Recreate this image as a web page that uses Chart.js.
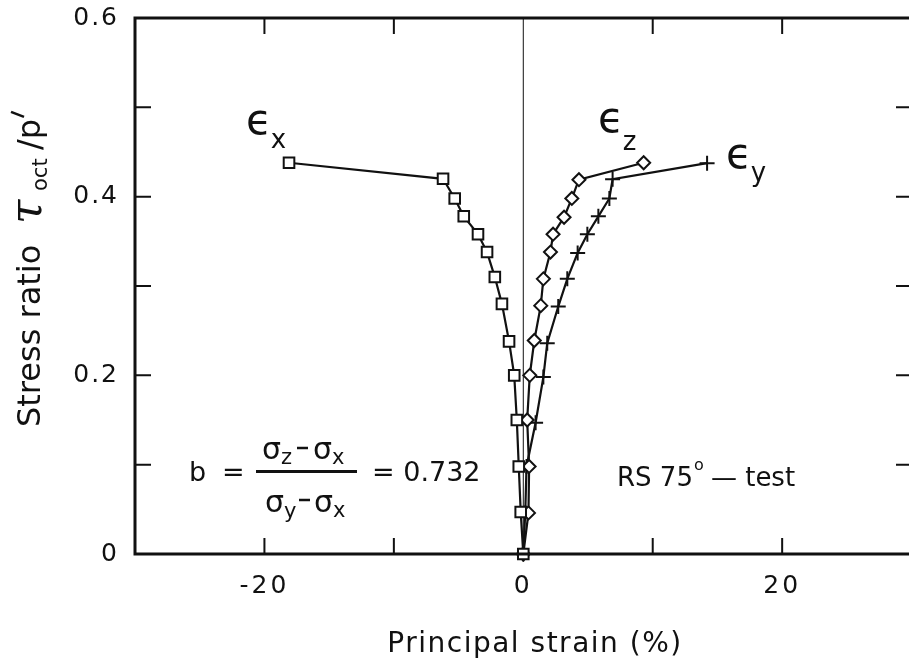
<!DOCTYPE html>
<html>
<head>
<meta charset="utf-8">
<script src="https://cdn.jsdelivr.net/npm/chart.js@4.4.1/dist/chart.umd.min.js"></script>
<style>
  html, body { margin: 0; padding: 0; background: #fff; overflow: hidden; }
  #wrap { width: 909px; height: 661px; }
</style>
</head>
<body>
<div id="wrap"><canvas id="strainChart" width="909" height="661"></canvas></div>
<script>
// DATA

// epsilon x (squares)
const strainX = [-18.1, -6.2, -5.3, -4.6, -3.5, -2.8, -2.2, -1.65, -1.1, -0.7, -0.5, -0.35, -0.2, 0];
const ratioX = [0.438, 0.420, 0.398, 0.378, 0.358, 0.338, 0.310, 0.280, 0.238, 0.200, 0.150, 0.098, 0.047, 0];

// epsilon z (diamonds)
const strainZ = [9.3, 4.3, 3.75, 3.15, 2.3, 2.1, 1.55, 1.35, 0.85, 0.5, 0.3, 0.45, 0.4, 0];
const ratioZ = [0.438, 0.419, 0.398, 0.377, 0.358, 0.338, 0.308, 0.278, 0.239, 0.200, 0.150, 0.098, 0.046, 0];

// epsilon y (plus signs)
const strainY = [14.2, 6.9, 6.65, 5.8, 4.95, 4.2, 3.4, 2.7, 1.85, 1.55, 0.95, 0.25, 0.15, 0];
const ratioY = [0.4375, 0.4195, 0.398, 0.378, 0.358, 0.337, 0.308, 0.277, 0.236, 0.198, 0.147, 0.098, 0.046, 0];

// axis ticks (the right border of the original frame falls just outside the picture)
const xMin = -30, xMax = 29.8;
const xTicks = [-20, -10, 0, 10, 20];
const xTickLabels = ["-20", "", "0", "", "20"];
const yTicks = [0, 0.1, 0.2, 0.3, 0.4, 0.5, 0.6];
const yTickLabels = ["0", "", "0.2", "", "0.4", "", "0.6"];

function toPoints(xs, ys) {
  return xs.map((x, i) => ({ x: x, y: ys[i] }));
}

const INK = "#111";
const FONT = "'DejaVu Sans', sans-serif";

// DRAWING HELPERS

function textWithSub(ctx, base, sub, x, y, bigFont, smallFont, drop) {
  ctx.font = bigFont;
  ctx.fillText(base, x, y);
  const w = ctx.measureText(base).width;
  ctx.font = smallFont;
  ctx.fillText(sub, x + w, y + drop);
  return w + ctx.measureText(sub).width;
}

function dash(ctx, x1, x2, y) {
  ctx.beginPath();
  ctx.moveTo(x1, y); ctx.lineTo(x2, y);
  ctx.stroke();
}

// FRAME, TICKS, LABELS, NOTES
const paperPlugin = {
  id: "paper",
  beforeDatasetsDraw(chart) {
    const { ctx, chartArea: a, scales } = chart;
    const x0 = scales.x.getPixelForValue(0);
    ctx.save();
    ctx.strokeStyle = INK;
    ctx.lineWidth = 1;
    ctx.beginPath();
    ctx.moveTo(x0, a.top);
    ctx.lineTo(x0, a.bottom);
    ctx.stroke();
    ctx.restore();
  },
  afterDraw(chart) {
    const { ctx, chartArea: a, scales } = chart;
    const sx = scales.x, sy = scales.y;
    ctx.save();
    ctx.strokeStyle = INK;
    ctx.fillStyle = INK;

    // frame: left, top, bottom
    ctx.lineWidth = 3;
    ctx.beginPath();
    ctx.moveTo(a.right + 2, a.top);
    ctx.lineTo(a.left, a.top);
    ctx.lineTo(a.left, a.bottom);
    ctx.lineTo(a.right + 2, a.bottom);
    ctx.stroke();

    // inward ticks
    ctx.lineWidth = 2;
    const tl = 16;
    xTicks.forEach(v => {
      if (v === 0) return;
      const px = sx.getPixelForValue(v);
      ctx.beginPath();
      ctx.moveTo(px, a.bottom); ctx.lineTo(px, a.bottom - tl);
      ctx.moveTo(px, a.top); ctx.lineTo(px, a.top + tl);
      ctx.stroke();
    });
    yTicks.forEach(v => {
      if (v === 0 || v === 0.6) return;
      const py = sy.getPixelForValue(v);
      ctx.beginPath();
      ctx.moveTo(a.left, py); ctx.lineTo(a.left + tl, py);
      ctx.moveTo(a.right + 2, py); ctx.lineTo(a.right - 13, py);
      ctx.stroke();
    });

    // tick labels
    ctx.letterSpacing = "3px";
    ctx.font = "25px " + FONT;
    ctx.textAlign = "center";
    ctx.textBaseline = "middle";
    xTicks.forEach((v, i) => {
      if (xTickLabels[i]) ctx.fillText(xTickLabels[i], sx.getPixelForValue(v), 586);
    });
    ctx.letterSpacing = "2px";
    ctx.font = "25px " + FONT;
    ctx.textAlign = "right";
    yTicks.forEach((v, i) => {
      if (yTickLabels[i]) ctx.fillText(yTickLabels[i], 119, sy.getPixelForValue(v));
    });
    ctx.letterSpacing = "0px";

    // x title
    ctx.font = "28px " + FONT;
    ctx.textAlign = "center";
    ctx.letterSpacing = "1.5px";
    ctx.fillText("Principal strain (%)", 535, 645);
    ctx.letterSpacing = "0px";

    // y title (rotated)
    ctx.save();
    ctx.translate(40, 427);
    ctx.rotate(-Math.PI / 2);
    ctx.textAlign = "left";
    ctx.textBaseline = "alphabetic";
    ctx.font = "32px " + FONT;
    ctx.fillText("Stress ratio", 0, 0);
    ctx.font = "italic 44px 'DejaVu Serif', serif";
    ctx.fillText("\u03C4", 203, 1);
    ctx.font = "21px " + FONT;
    ctx.fillText("oct", 236, 7);
    ctx.font = "32px " + FONT;
    ctx.fillText("/p", 277, 0);
    const pw = ctx.measureText("/p").width;
    // prime mark
    ctx.lineWidth = 2.5;
    ctx.beginPath();
    ctx.moveTo(277 + pw + 2, -16);
    ctx.lineTo(277 + pw + 7, -29);
    ctx.stroke();
    ctx.restore();

    // strain labels
    ctx.textAlign = "left";
    ctx.textBaseline = "alphabetic";
    const eps = "\u03F5";
    [[eps, "x", 246, 134, 148], [eps, "z", 598, 132, 150], [eps, "y", 726, 168, 181]].forEach(l => {
      ctx.font = "42px " + FONT;
      ctx.fillText(l[0], l[2], l[3]);
      const w = ctx.measureText(l[0]).width;
      ctx.font = "26px " + FONT;
      ctx.fillText(l[1], l[2] + w - 1, l[4]);
    });

    // b formula
    ctx.font = "27px " + FONT;
    ctx.textBaseline = "middle";
    ctx.fillText("b", 189, 474);
    ctx.fillText("=", 222, 474);
    ctx.textBaseline = "alphabetic";
    const big = "30px " + FONT, small = "21px " + FONT;
    ctx.lineWidth = 2.5;
    textWithSub(ctx, "\u03C3", "z", 262, 459, big, small, 5);
    dash(ctx, 297, 308, 448);
    textWithSub(ctx, "\u03C3", "x", 313, 459, big, small, 5);
    textWithSub(ctx, "\u03C3", "y", 265, 512, big, small, 6);
    dash(ctx, 299, 310, 500);
    textWithSub(ctx, "\u03C3", "x", 314, 512, big, small, 5);
    ctx.lineWidth = 3;
    dash(ctx, 256, 357, 471.5);
    ctx.font = "27px " + FONT;
    ctx.textBaseline = "middle";
    ctx.fillText("= 0.732", 372, 474);

    // test name
    ctx.font = "26px " + FONT;
    ctx.fillText("RS 75", 617, 479);
    const rw = ctx.measureText("RS 75").width;
    ctx.font = "16px " + FONT;
    ctx.fillText("o", 617 + rw + 1, 466);
    ctx.font = "26px " + FONT;
    ctx.fillText("\u2014 test", 617 + rw + 18, 479);

    ctx.restore();
  }
};

// CHART

function series(label, xs, ys, style, radius) {
  return {
    label: label,
    data: toPoints(xs, ys),
    showLine: true,
    borderColor: INK,
    borderWidth: 2.2,
    pointStyle: style,
    pointRadius: radius,
    pointBorderWidth: 2,
    pointBackgroundColor: "#fff",
    pointBorderColor: INK,
    clip: false
  };
}

new Chart(document.getElementById("strainChart"), {
  type: "scatter",
  data: {
    datasets: [
      series("\u03B5x", strainX, ratioX, "rect", 7.5),
      series("\u03B5z", strainZ, ratioZ, "rectRot", 6.5),
      series("\u03B5y", strainY, ratioY, "cross", 7.5)
    ]
  },
  options: {
    responsive: false,
    animation: false,
    devicePixelRatio: 1,
    layout: { autoPadding: false, padding: { left: 135, top: 18, right: 0, bottom: 107 } },
    plugins: {
      legend: { display: false },
      tooltip: { enabled: false }
    },
    scales: {
      x: { type: "linear", min: xMin, max: xMax, display: false },
      y: { type: "linear", min: 0, max: 0.6, display: false }
    }
  },
  plugins: [paperPlugin]
});
</script>
</body>
</html>
